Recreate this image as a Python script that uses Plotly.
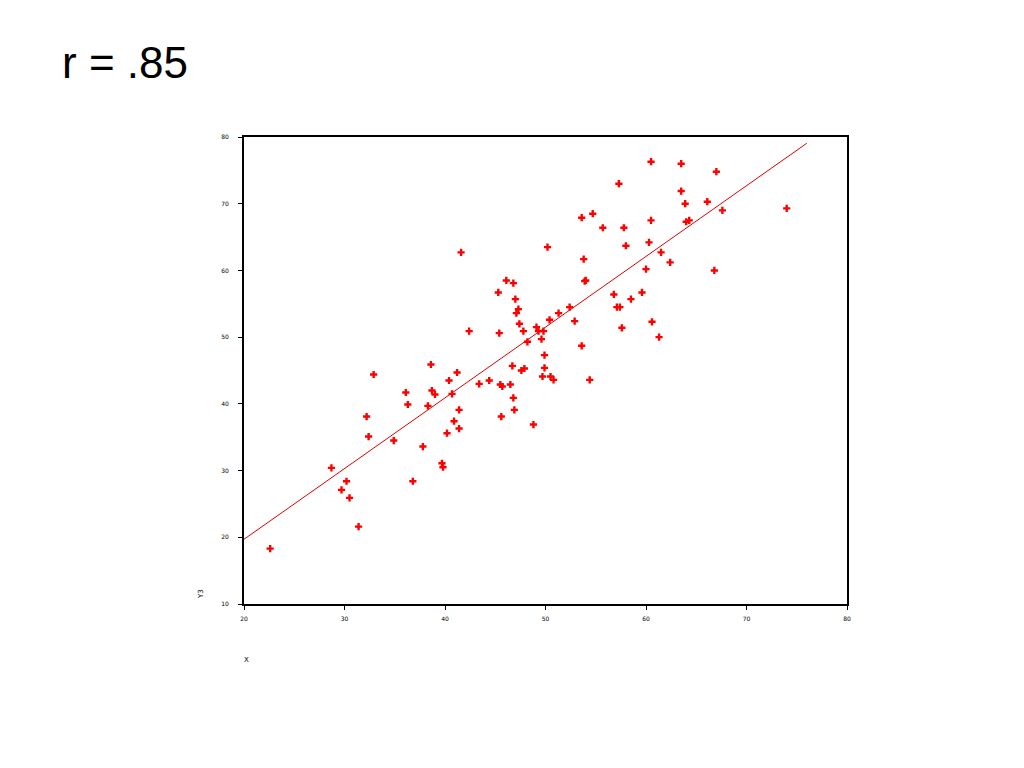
import plotly.graph_objects as go

x_vals = [22.6, 28.7, 29.7, 30.2, 30.5, 31.4, 32.2, 32.4, 32.9, 34.9,
          36.1, 36.3, 36.8, 37.8, 38.3, 38.6, 38.7, 39.0, 39.7, 39.8,
          40.2, 40.4, 40.7, 40.9, 41.2, 41.4, 41.4, 41.6, 42.4, 43.4,
          44.4, 45.3, 45.4, 45.5, 45.6, 45.7, 46.1, 46.5, 46.7, 46.8,
          46.8, 46.9, 47.0, 47.1, 47.3, 47.4, 47.6, 47.8, 47.9, 48.2,
          48.8, 49.1, 49.3, 49.6, 49.7, 49.8, 49.9, 49.9, 50.2, 50.4,
          50.5, 50.8, 51.3, 52.4, 52.9, 53.6, 53.6, 53.8, 53.9, 54.0,
          54.4, 54.7, 55.7, 56.8, 57.1, 57.3, 57.4, 57.6, 57.8, 58.0,
          58.5, 59.6, 60.0, 60.3, 60.5, 60.5, 60.6, 61.3, 61.5, 62.4,
          63.5, 63.5, 63.9, 64.0, 64.3, 66.1, 66.8, 67.0, 67.6, 74.0]
y_vals = [18.3, 30.4, 27.1, 28.4, 25.9, 21.6, 38.1, 35.1, 44.4, 34.5,
          41.7, 39.9, 28.4, 33.6, 39.7, 45.9, 42.0, 41.4, 31.1, 30.5,
          35.6, 43.5, 41.5, 37.4, 44.7, 39.1, 36.3, 62.7, 50.9, 43.0,
          43.5, 56.7, 50.6, 42.9, 38.1, 42.6, 58.5, 42.9, 45.7, 58.1,
          40.9, 39.1, 55.7, 53.6, 54.2, 52.0, 45.0, 50.9, 45.3, 49.3,
          36.9, 51.5, 50.9, 49.7, 44.1, 50.9, 47.3, 45.4, 63.5, 52.6,
          44.1, 43.6, 53.6, 54.5, 52.4, 48.7, 67.9, 61.7, 58.4, 58.5,
          43.6, 68.5, 66.4, 56.4, 54.5, 73.0, 54.5, 51.4, 66.4, 63.7,
          55.7, 56.7, 60.2, 64.2, 76.3, 67.5, 52.3, 50.0, 62.7, 61.2,
          76.0, 71.9, 70.0, 67.3, 67.5, 70.3, 60.0, 74.8, 69.0, 69.3]

fit_intercept_at_20 = 19.7
fit_slope = 1.06
fit_x = [20.0, 76.0]
fit_y = [fit_intercept_at_20 + fit_slope * (v - 20.0) for v in fit_x]

x_ticks = [20, 30, 40, 50, 60, 70, 80]
y_ticks = [10, 20, 30, 40, 50, 60, 70, 80]

fig = go.Figure()
fig.add_trace(go.Scatter(x=fit_x, y=fit_y, mode="lines",
                         line=dict(color="#E00000", width=1), hoverinfo="skip"))
fig.add_trace(go.Scatter(x=x_vals, y=y_vals, mode="markers",
                         marker=dict(symbol="cross", size=6, color="#FF0000",
                                     line=dict(width=0))))

axis_common = dict(showgrid=False, zeroline=False, showline=True, linecolor="black",
                   linewidth=2, mirror=True, ticks="outside", ticklen=4, tickcolor="black",
                   tickfont=dict(family="Arial Black, DejaVu Sans", size=6, color="black"))

fig.update_layout(
    width=1024, height=768,
    paper_bgcolor="white", plot_bgcolor="white",
    showlegend=False,
    margin=dict(l=236, r=185, t=129, b=172),
    xaxis=dict(range=[20, 80], tickvals=x_ticks, ticktext=[str(t) for t in x_ticks],
               ticklabelstandoff=4, **axis_common),
    yaxis=dict(range=[10, 80], tickvals=y_ticks, ticktext=[str(t) for t in y_ticks],
               ticklabelstandoff=8, **axis_common),
    annotations=[
        dict(text="r = .85", xref="paper", yref="paper", x=0, y=1,
             xanchor="left", yanchor="middle", showarrow=False,
             font=dict(family="Liberation Sans, Arial", size=44, color="black"),
             xshift=-184, yshift=75),
        dict(text="X", xref="paper", yref="paper", x=0, y=0, xanchor="center", yanchor="middle",
             showarrow=False, xshift=2, yshift=-56,
             font=dict(family="DejaVu Sans", size=7, color="black")),
        dict(text="Y3", xref="paper", yref="paper", x=0, y=0, xanchor="center", yanchor="middle",
             showarrow=False, textangle=-90, xshift=-43, yshift=10,
             font=dict(family="DejaVu Sans", size=7, color="black")),
    ],
)

fig.write_html("out.html")
